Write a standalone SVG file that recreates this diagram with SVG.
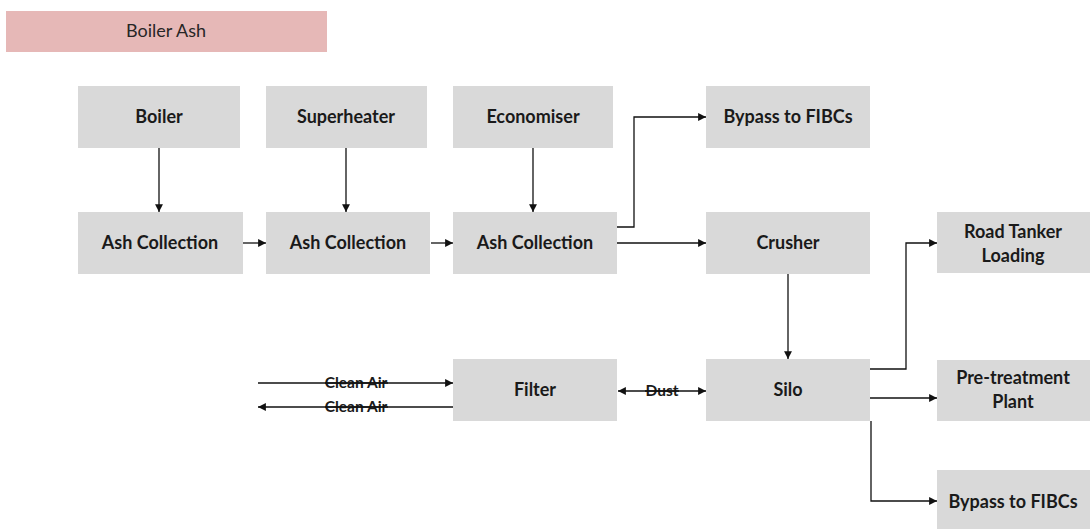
<svg xmlns="http://www.w3.org/2000/svg" width="1091" height="529" viewBox="0 0 1091 529">
  <style>
    .box { fill: #d9d9d9; }
    .lbl { font-family: Lato, "Liberation Sans", sans-serif; font-weight: bold; font-size: 18px; fill: #1a1a1a; text-anchor: middle; }
    .small { font-family: Lato, "Liberation Sans", sans-serif; font-weight: bold; font-size: 15.5px; fill: #1a1a1a; text-anchor: middle; }
    .title { font-family: Lato, "Liberation Sans", sans-serif; font-size: 18px; fill: #262626; text-anchor: middle; }
    .conn { fill: none; stroke: #111; stroke-width: 1.3; }
  </style>
  <defs>
    <marker id="arrow" markerUnits="userSpaceOnUse" markerWidth="9" markerHeight="9" viewBox="0 0 8 8" refX="7" refY="4" orient="auto-start-reverse">
      <path d="M0,0.5 L7,4 L0,7.5 Z" fill="#111"/>
    </marker>
  </defs>

  <rect width="1091" height="529" fill="#ffffff"/>

  <!-- legend band -->
  <g id="legend">
    <rect x="6" y="11" width="321" height="41" fill="#e6b8b7"/>
    <text class="title" x="166" y="37">Boiler Ash</text>
  </g>

  <!-- process units -->
  <g id="boiler">
    <rect class="box" x="78" y="86" width="162" height="62"/>
    <text class="lbl" x="159" y="123">Boiler</text>
  </g>
  <g id="superheater">
    <rect class="box" x="266" y="86" width="161" height="62"/>
    <text class="lbl" x="346" y="123">Superheater</text>
  </g>
  <g id="economiser">
    <rect class="box" x="453" y="86" width="160" height="62"/>
    <text class="lbl" x="533" y="123">Economiser</text>
  </g>
  <g id="ash-collection-1">
    <rect class="box" x="78" y="212" width="165" height="62"/>
    <text class="lbl" x="160" y="249">Ash Collection</text>
  </g>
  <g id="ash-collection-2">
    <rect class="box" x="266" y="212" width="164" height="62"/>
    <text class="lbl" x="348" y="249">Ash Collection</text>
  </g>
  <g id="ash-collection-3">
    <rect class="box" x="453" y="212" width="164" height="62"/>
    <text class="lbl" x="535" y="249">Ash Collection</text>
  </g>
  <g id="bypass-fibcs-1">
    <rect class="box" x="706" y="86" width="164" height="62"/>
    <text class="lbl" x="788" y="123">Bypass to FIBCs</text>
  </g>
  <g id="crusher">
    <rect class="box" x="706" y="212" width="164" height="62"/>
    <text class="lbl" x="788" y="249">Crusher</text>
  </g>
  <g id="filter">
    <rect class="box" x="453" y="359" width="164" height="62"/>
    <text class="lbl" x="535" y="396">Filter</text>
  </g>
  <g id="silo">
    <rect class="box" x="706" y="359" width="164" height="62"/>
    <text class="lbl" x="788" y="396">Silo</text>
  </g>
  <g id="road-tanker">
    <rect class="box" x="937" y="212" width="153" height="61"/>
    <text class="lbl" x="1013" y="238">Road Tanker</text>
    <text class="lbl" x="1013" y="262">Loading</text>
  </g>
  <g id="pretreatment">
    <rect class="box" x="937" y="360" width="153" height="61"/>
    <text class="lbl" x="1013" y="384">Pre-treatment</text>
    <text class="lbl" x="1013" y="408">Plant</text>
  </g>
  <g id="bypass-fibcs-2">
    <rect class="box" x="937" y="470" width="153" height="59"/>
    <text class="lbl" x="1013" y="508">Bypass to FIBCs</text>
  </g>

  <!-- flows -->
  <g id="connectors">
    <path class="conn" d="M159,148 V212" marker-end="url(#arrow)"/>
    <path class="conn" d="M346,148 V212" marker-end="url(#arrow)"/>
    <path class="conn" d="M533,148 V212" marker-end="url(#arrow)"/>
    <path class="conn" d="M243,243 H266" marker-end="url(#arrow)"/>
    <path class="conn" d="M431,243 H453" marker-end="url(#arrow)"/>
    <path class="conn" d="M617,227 H634 V117 H706" marker-end="url(#arrow)"/>
    <path class="conn" d="M617,243 H706" marker-end="url(#arrow)"/>
    <path class="conn" d="M788,274 V359" marker-end="url(#arrow)"/>
    <path class="conn" d="M618,391 H706" marker-start="url(#arrow)" marker-end="url(#arrow)"/>
    <path class="conn" d="M258,383 H453" marker-end="url(#arrow)"/>
    <path class="conn" d="M453,407 H258" marker-end="url(#arrow)"/>
    <path class="conn" d="M870,369 H906 V243 H937" marker-end="url(#arrow)"/>
    <path class="conn" d="M870,398 H937" marker-end="url(#arrow)"/>
    <path class="conn" d="M871,421 V501 H937" marker-end="url(#arrow)"/>
    <!-- labels sit on the lines, struck through -->
    <text class="small" x="356" y="388">Clean Air</text>
    <text class="small" x="356" y="412">Clean Air</text>
    <text class="small" x="662" y="396">Dust</text>
    <path class="conn" d="M325,383 H388 M325,407 H388 M645,391 H679"/>
  </g>
</svg>
